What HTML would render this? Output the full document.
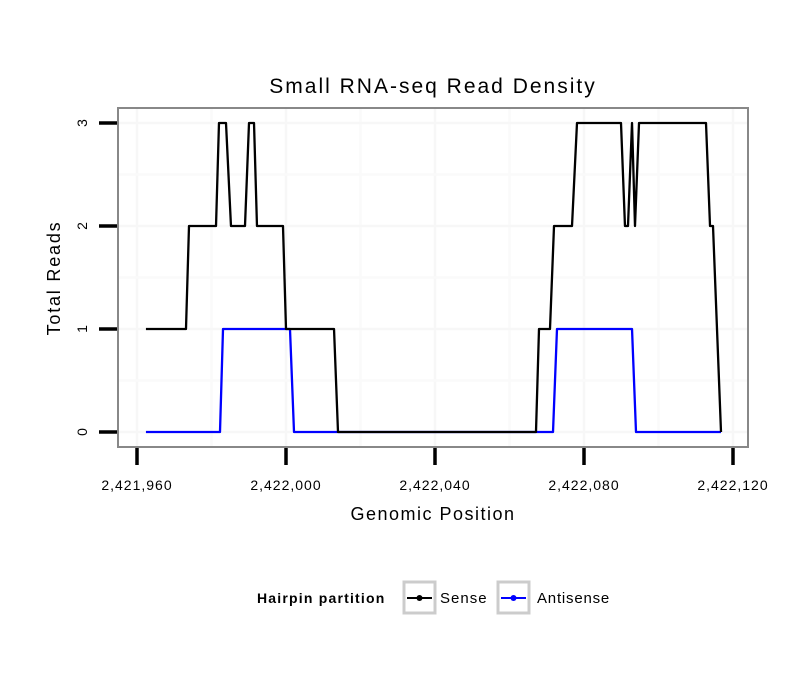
<!DOCTYPE html>
<html><head><meta charset="utf-8"><style>
html,body{margin:0;padding:0;background:#fff;}
svg text{font-family:"Liberation Sans",sans-serif;}
</style></head><body>
<svg width="810" height="690" xmlns="http://www.w3.org/2000/svg">
<text x="433" y="93" font-size="21" letter-spacing="2" text-anchor="middle">Small RNA-seq Read Density</text>
<rect x="118" y="108" width="630" height="339" fill="#fff" stroke="#888" stroke-width="2"/>
<g id="grid"></g>
<g id="ticks"></g>
<g id="lines"></g>
<text x="433" y="520" font-size="18" letter-spacing="1.5" text-anchor="middle">Genomic Position</text>
<text transform="translate(60,278) rotate(-90)" font-size="18" letter-spacing="1.8" text-anchor="middle">Total Reads</text>
<g>
<text x="257" y="603" font-size="14" letter-spacing="1.2" font-weight="bold">Hairpin partition</text>
<g>
<rect x="404" y="582" width="31" height="31" fill="#fff" stroke="#ccc" stroke-width="3"/>
<line x1="407" y1="598" x2="432" y2="598" stroke="#000" stroke-width="2"/>
<circle cx="419.5" cy="598" r="3" fill="#000"/>
<text x="440" y="603" font-size="15" letter-spacing="1">Sense</text>
</g>
<g>
<rect x="498" y="582" width="31" height="31" fill="#fff" stroke="#ccc" stroke-width="3"/>
<line x1="501" y1="598" x2="526" y2="598" stroke="#00f" stroke-width="2"/>
<circle cx="513.5" cy="598" r="3" fill="#00f"/>
<text x="537" y="603" font-size="15" letter-spacing="0.8">Antisense</text>
</g>
</g>
</svg>
<script>
const xBase = 2421960;
const senseX = [2.4,13.15,13.96,21.21,22.01,23.89,25.23,28.99,30.07,31.41,32.21,39.19,40.0,52.89,53.96,107.11,107.92,110.87,111.95,116.78,118.12,129.93,131.0,131.81,132.89,133.69,134.77,152.75,153.83,154.63,156.78];
const senseY = [1,1,2,2,3,3,2,2,3,3,2,2,1,1,0,0,1,1,2,2,3,3,2,2,3,2,3,3,2,2,0];
const antiX = [2.4,22.28,23.09,41.07,42.15,111.68,112.75,132.89,133.96,156.78];
const antiY = [0,0,1,1,0,0,1,1,0,0];
const xTicks = [2421960,2422000,2422040,2422080,2422120];
const xTickLabels = ["2,421,960","2,422,000","2,422,040","2,422,080","2,422,120"];
const yTicks = [0,1,2,3];
const yTickLabels = ["0","1","2","3"];
const NS="http://www.w3.org/2000/svg";
function sx(v){return 137+(v-2421960)*3.725;}
function sy(v){return 432-v*103;}
function mk(t,a,p){const e=document.createElementNS(NS,t);for(const k in a)e.setAttribute(k,a[k]);p.appendChild(e);return e;}
const grid=document.getElementById('grid'),ticks=document.getElementById('ticks'),lines=document.getElementById('lines');
for(let v=2421960;v<=2422120;v+=20){const x=sx(v);if(x<119||x>747)continue;
 const g=mk('line',{x1:x,x2:x,y1:109,y2:446,stroke:v%40===0?'#f7f7f7':'#fafafa','stroke-width':2.5},grid);
 
 }
for(let v=0;v<=3.5;v+=0.5){const y=sy(v);if(y<109||y>446)continue;
 const g=mk('line',{x1:119,x2:747,y1:y,y2:y,stroke:v%1===0?'#f7f7f7':'#fafafa','stroke-width':2.5},grid);
 
 }
xTicks.forEach((v,i)=>{const x=sx(v);
 const t=mk('line',{x1:x,x2:x,y1:448,y2:465,stroke:'#000','stroke-width':3.5},ticks);
 
 
 const l=mk('text',{x:x,y:490,'font-size':14,'letter-spacing':1,'text-anchor':'middle'},ticks);l.textContent=xTickLabels[i];
 
 });
yTicks.forEach((v,i)=>{const y=sy(v);
 const t=mk('line',{x1:99,x2:117,y1:y,y2:y,stroke:'#000','stroke-width':3.5},ticks);
 
 
 const l=mk('text',{transform:`translate(87,${y}) rotate(-90)`,'font-size':14,'text-anchor':'middle'},ticks);l.textContent=yTickLabels[i];
 
 });
function path(xs,ys,c,name){const d=xs.map((v,i)=>(i?'L':'M')+sx(xBase+v)+','+sy(ys[i])).join(' ');
 const p=mk('path',{d:d,fill:'none',stroke:c,'stroke-width':2.3,'stroke-linejoin':'round'},lines);
 
 }
path(antiX,antiY,'#00f','antisense-line');
path(senseX,senseY,'#000','sense-line');
</script>
</body></html>
